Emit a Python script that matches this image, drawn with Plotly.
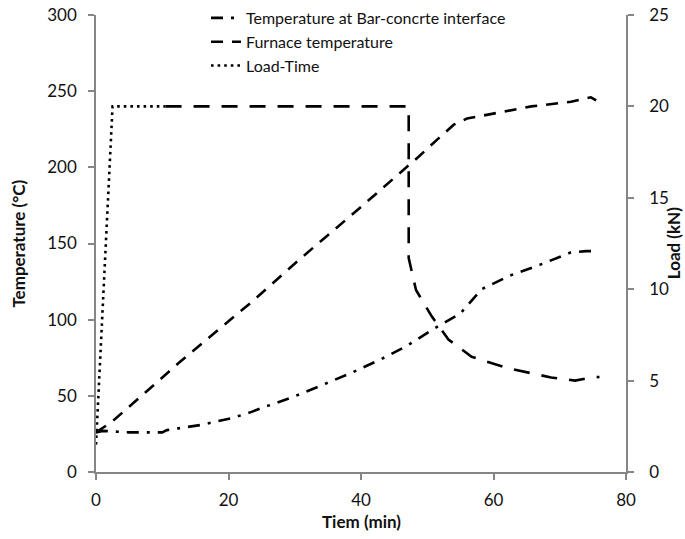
import plotly.graph_objects as go

# Temperature at bar-concrete interface (°C) vs time (min)
interface_time = [0, 1, 5, 10, 10.7, 16, 20.6, 23.2, 25, 29.6, 34.1, 38.5, 43, 46.8,
                  51, 55, 58.2, 62.5, 67, 71.6, 74, 75]
interface_temp = [26, 27, 26, 26, 27.5, 31, 35.5, 39, 42, 49, 57, 65, 74, 82.5,
                  94, 104, 120, 129, 136, 144, 145, 145]

# Furnace temperature (°C) vs time (min)
furnace_time = [0, 2.4, 7.4, 12.6, 23.6, 26.5, 31.1, 40, 47.2, 48.7, 51.7, 54, 56,
                60.8, 65.7, 71.7, 74.7, 75.5]
furnace_temp = [26, 33, 52, 72, 112, 123, 141, 174, 201, 207, 219, 228, 232,
                236, 240, 243, 246, 244]

# Applied load (kN) vs time (min): loading ramp and hold
load_time = [0, 2.5, 10.5]
load_kn = [1.5, 20, 20]

# Applied load (kN) vs time (min): hold until failure and load decay
decay_time = [10.5, 47.2, 47.2, 48.3, 50.7, 53.2, 56.7, 62.3, 68.7, 72.3, 74.7, 76]
decay_kn = [20, 20, 11.7, 9.96, 8.5, 7.25, 6.3, 5.67, 5.17, 5.0, 5.17, 5.2]

x_ticks = [0, 20, 40, 60, 80]
temp_ticks = [0, 50, 100, 150, 200, 250, 300]
load_ticks = [0, 5, 10, 15, 20, 25]

FONT = "Lato, 'Open Sans', sans-serif"
AXIS_GRAY = "#868686"
INK = "#111111"

fig = go.Figure()

fig.add_trace(go.Scatter(
    x=interface_time, y=interface_temp, mode="lines",
    name="Temperature at Bar-concrte interface", legendgroup="a",
    line=dict(color="black", width=2.6, dash="12px,8px,3px,8px"),
))
fig.add_trace(go.Scatter(
    x=furnace_time, y=furnace_temp, mode="lines",
    name="Furnace temperature", legendgroup="b",
    line=dict(color="black", width=2.6, dash="12px,9px"),
))
fig.add_trace(go.Scatter(
    x=load_time, y=load_kn, mode="lines", yaxis="y2",
    name="Load-Time", legendgroup="c",
    line=dict(color="black", width=2.6, dash="2.6px,4px"),
))
fig.add_trace(go.Scatter(
    x=decay_time, y=decay_kn, mode="lines", yaxis="y2",
    name="Load", showlegend=False,
    line=dict(color="black", width=2.6, dash="16px,12px"),
))

axis_common = dict(
    showgrid=False, zeroline=False, showline=True, automargin=False,
    linecolor=AXIS_GRAY, linewidth=1.5,
    ticks="outside", ticklen=6, tickcolor=AXIS_GRAY, tickwidth=1.5,
    tickfont=dict(family=FONT, size=17, color=INK),
)
title_font = dict(family=FONT, size=17, color=INK)

fig.update_layout(
    width=685, height=539,
    margin=dict(l=96, r=59, t=15, b=67, autoexpand=False),
    paper_bgcolor="white", plot_bgcolor="white",
    font=dict(family=FONT, color=INK),
    xaxis=dict(range=[0, 80], tickvals=x_ticks, ticklabelstandoff=6, **axis_common),
    yaxis=dict(range=[0, 300], tickvals=temp_ticks, ticklabelstandoff=8, **axis_common),
    yaxis2=dict(range=[0, 25], tickvals=load_ticks, overlaying="y", side="right",
                ticklabelstandoff=12, **axis_common),
    legend=dict(
        xref="container", yref="container",
        x=(248 - 42) / 685, y=1 - 1 / 539, xanchor="left", yanchor="top",
        font=dict(family=FONT, size=16, color=INK),
        bgcolor="rgba(0,0,0,0)", tracegroupgap=0, traceorder="grouped",
    ),
    showlegend=True,
)

# Axis titles
fig.add_annotation(text="<b>Tiem (min)</b>", xref="paper", yref="paper",
                   x=0.5, y=-0.109, showarrow=False, font=title_font,
                   xanchor="center", yanchor="middle")
fig.add_annotation(text="<b>Temperature (°C)</b>", xref="paper", yref="paper",
                   x=-0.147, y=0.5, showarrow=False, font=title_font, textangle=-90,
                   xanchor="center", yanchor="middle")
fig.add_annotation(text="<b>Load (kN)</b>", xref="paper", yref="paper",
                   x=1.09, y=0.5, showarrow=False, font=title_font, textangle=-90,
                   xanchor="center", yanchor="middle")

fig.write_html("out.html")
